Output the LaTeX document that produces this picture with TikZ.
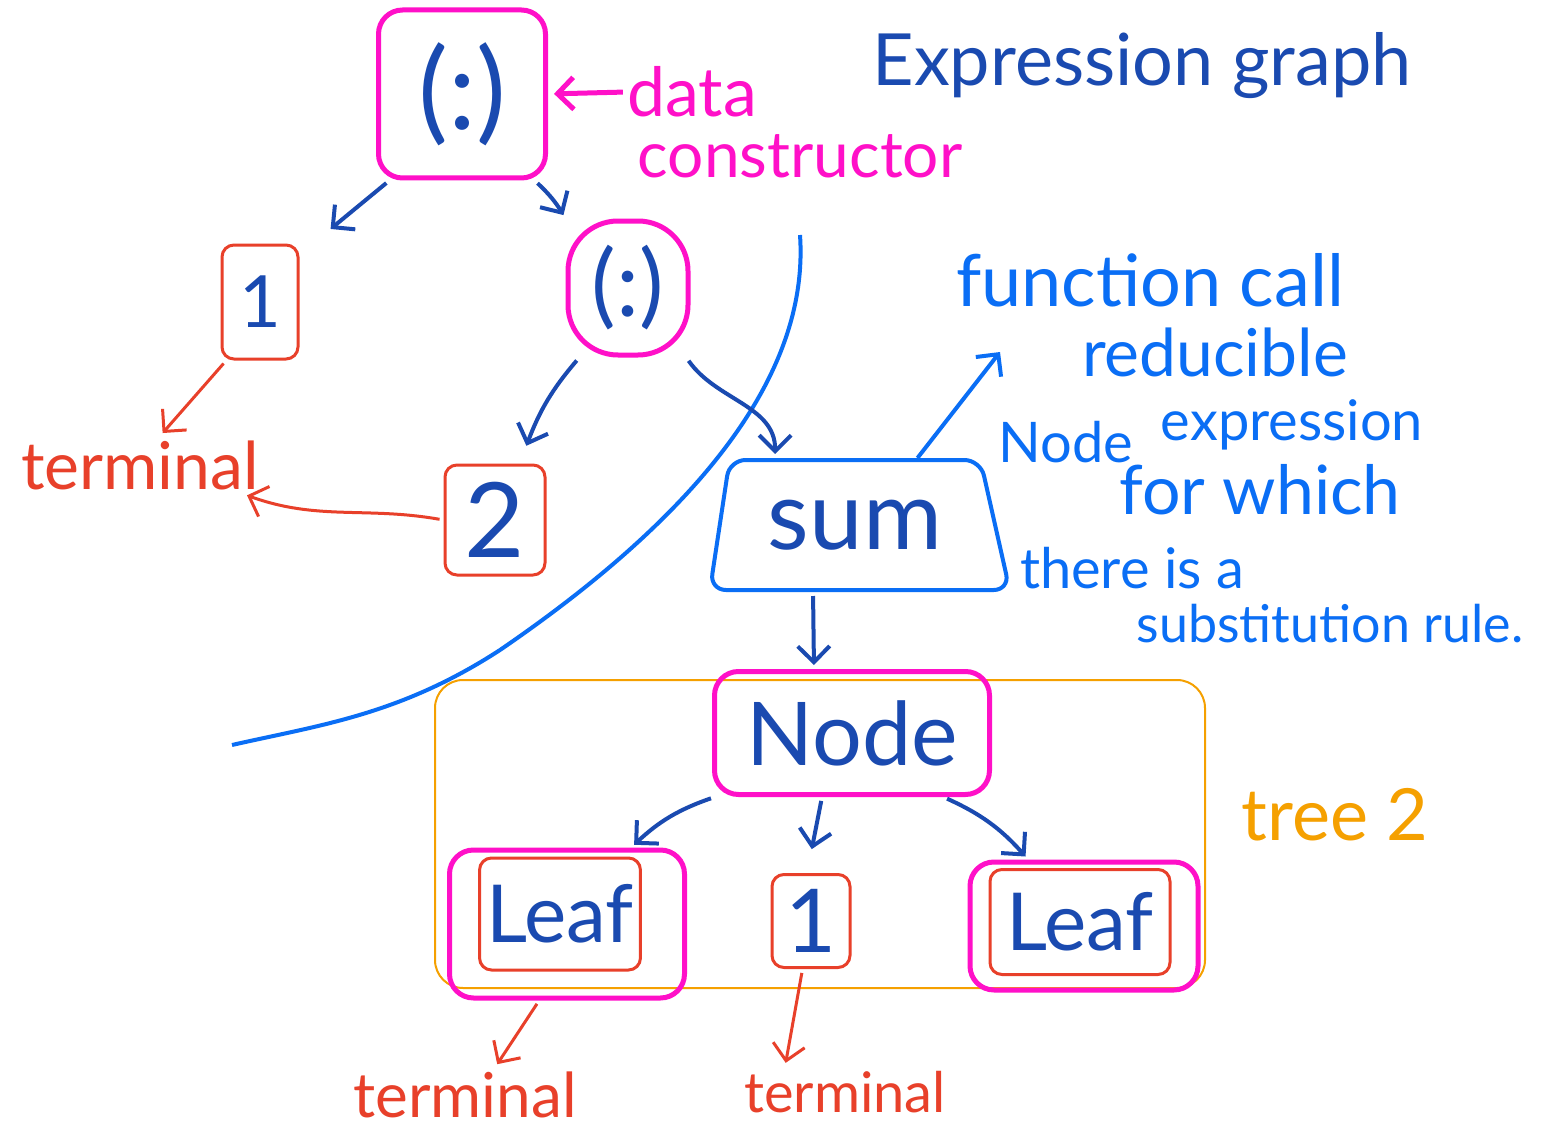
\documentclass[tikz,border=0pt]{standalone}
\usepackage{fontspec}
\setmainfont{Lato}
\usetikzlibrary{arrows.meta,shapes.geometric}
\definecolor{dblue}{HTML}{1A4AB0}
\definecolor{mag}{HTML}{FF10C8}
\definecolor{rred}{HTML}{E8402A}
\definecolor{bblue}{HTML}{0A6EF5}
\definecolor{orng}{HTML}{F5A000}
\newcommand{\myfs}[1]{\fontsize{#1}{#1}\selectfont}
\tikzset{
  magbox/.style={draw=mag, line width=2.5pt, rounded corners=12pt, text=dblue},
  redbox/.style={draw=rred, line width=1.5pt, rounded corners=6pt, text=dblue},
  tip/.style={-{Straight Barb[length=8pt,width=16pt]}},
  darr/.style={draw=dblue, line width=2pt, tip, shorten >=2pt, shorten <=2pt},
  rarr/.style={draw=rred, line width=1.5pt, tip, shorten >=2pt, shorten <=2pt},
  barr/.style={draw=bblue, line width=2pt, tip},
  marr/.style={draw=mag, line width=2.5pt, tip, shorten >=3pt, shorten <=2pt},
  magtxt/.style={text=mag, inner sep=0pt},
  redtxt/.style={text=rred, inner sep=2pt},
  bluetxt/.style={text=bblue, inner sep=0pt},
  dtxt/.style={text=dblue, inner sep=0pt},
}
\begin{document}
\begin{tikzpicture}[x=0.5pt,y=-0.5pt]
\useasboundingbox (0,0) rectangle (1559,1129);
\fill[white] (0,0) rectangle (1559,1129);

% upper part
\node[magbox, minimum width=83.5pt, minimum height=84pt, font=\myfs{56}] (top) at (462,94) {(:)};
\node[redbox, minimum width=38pt, minimum height=57pt, font=\myfs{36}] (one) at (260,302) {1};
\node[magbox, rounded corners=25pt, minimum width=60pt, minimum height=67pt, font=\myfs{46}] (col2) at (628,288) {(:)};
\node[redbox, minimum width=50pt, minimum height=55pt, font=\myfs{52}] (two) at (495,520) {2};
\node[trapezium, draw=bblue, line width=2pt, rounded corners=8pt, trapezium left angle=77, trapezium right angle=71, trapezium stretches=true, minimum width=150pt, minimum height=65pt, text=dblue, font=\myfs{48}] (sum) at (855,525) {sum};

% lower part
\node[draw=orng, line width=1pt, rounded corners=14pt, minimum width=385pt, minimum height=154pt] (tree) at (820,834) {};
\node[magbox, minimum width=137.5pt, minimum height=61.5pt, font=\myfs{44}] (nd) at (852,733) {Node};
\node[magbox, minimum width=117.5pt, minimum height=74pt] (leaf1o) at (567,924) {};
\node[redbox, minimum width=80pt, minimum height=56pt, font=\myfs{40}] (leaf1) at (560,914) {Leaf};
\node[redbox, minimum width=39pt, minimum height=46.5pt, font=\myfs{44}] (onebox) at (811,921) {1};
\node[magbox, minimum width=114pt, minimum height=64pt] (leaf2o) at (1084,926) {};
\node[redbox, minimum width=90pt, minimum height=52.5pt, font=\myfs{40}] (leaf2) at (1080,922) {Leaf};

% labels
\node[magtxt, font=\myfs{34}] (data) at (692,92) {data};
\node[magtxt, font=\myfs{32}] (cons) at (800,156) {constructor};
\node[dtxt, font=\myfs{36}] (expr) at (1142,66) {Expression graph};
\node[redtxt, font=\myfs{33}] (term1) at (140,465) {terminal};
\node[bluetxt, font=\myfs{36}] (fc) at (1150,280) {function call};
\node[bluetxt, font=\myfs{33}] (redu) at (1215,352) {reducible};
\node[bluetxt, font=\myfs{28}] (nodew) at (1066,442) {Node};
\node[bluetxt, font=\myfs{28}] (expw) at (1292,425) {expression};
\node[bluetxt, font=\myfs{34}] (forw) at (1260,490) {for which};
\node[bluetxt, font=\myfs{28}] (there) at (1132,568) {there is a};
\node[bluetxt, font=\myfs{26}] (subst) at (1330,624) {substitution rule.};
\node[text=orng, inner sep=0pt, font=\myfs{36}] (treelbl) at (1335,815) {tree 2};
\node[redtxt, font=\myfs{31}] (bterm1) at (465,1095) {terminal};
\node[redtxt, font=\myfs{28}] (bterm2) at (845,1092) {terminal};
\coordinate (annot) at (1000,352);

% dividing curve
\draw[bblue, line width=2pt] (800,235) .. controls (810,380) and (690,520) .. (500,650) .. controls (400,715) and (320,725) .. (232,745);

% connectors
\draw[marr] (data.west) -- (top.east);
\draw[darr] (top.-130) -- ([xshift=14pt,yshift=6pt]one.north east);
\draw[darr] (top.-50) to[bend left=8] (col2.north west);
\draw[darr] (col2.-125) to[bend right=10] ([xshift=15pt,yshift=7pt]two.north);
\draw[darr] (col2.-50) to[out=-55,in=90] (sum.140);
\draw[barr] (sum.47) -- (annot);
\draw[darr] ([xshift=-21pt]sum.south) -- ([xshift=-19pt]nd.north);
\draw[darr] (nd.-155) to[bend right=12] (leaf1o.50);
\draw[darr] ([xshift=-15pt]nd.south) -- ([yshift=10pt]onebox.north);
\draw[darr] (nd.-35) to[bend left=12] (leaf2o.130);
\draw[rarr] (one.-120) -- ([xshift=10pt]term1.north);
\draw[rarr] (two.west) to[out=170,in=-20] ([xshift=-10pt]term1.south east);
\draw[rarr] (leaf1o.-110) -- ([xshift=15pt]bterm1.north);
\draw[rarr] (onebox.-100) -- ([xshift=-30pt]bterm2.north);
\end{tikzpicture}
\end{document}
